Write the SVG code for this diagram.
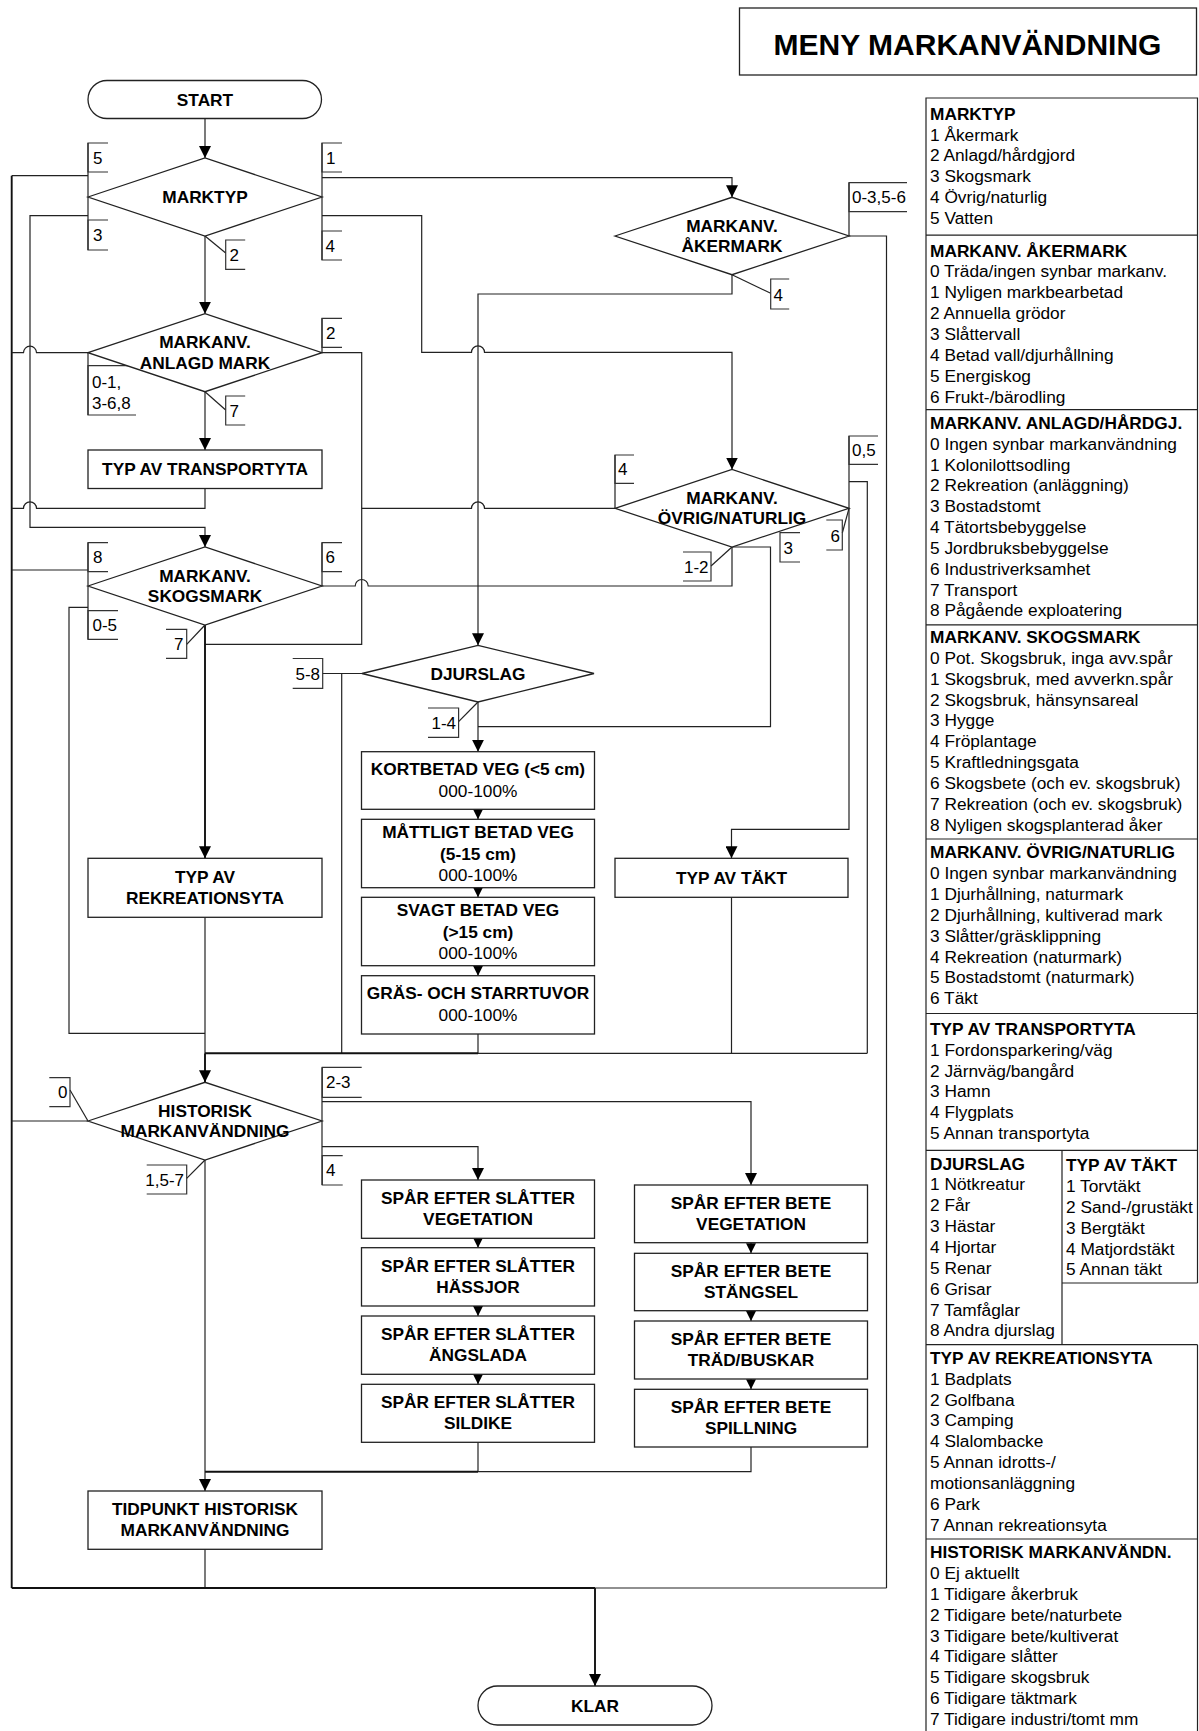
<svg xmlns="http://www.w3.org/2000/svg" width="1199" height="1731" viewBox="0 0 1199 1731">
<style>
  .shape{fill:#fff;stroke:#222;stroke-width:1.3}
  .ln{fill:none;stroke:#222;stroke-width:1.2}
  .lnb{fill:none;stroke:#111;stroke-width:1.9}
  .lbl{fill:none;stroke:#333;stroke-width:1.2}
  .pl{fill:none;stroke:#222;stroke-width:1.2}
  text{font-family:"Liberation Sans",Arial,Helvetica,sans-serif;fill:#000}
  .nt{font-size:17.3px;font-weight:bold;text-anchor:middle}
  .nv{font-size:17.3px;text-anchor:middle}
  .lt{font-size:17px}
  .le{font-size:17px;text-anchor:end}
  .ph{font-size:17.3px;font-weight:bold}
  .pi{font-size:17.3px}
  .title{font-size:30px;font-weight:bold;text-anchor:middle}
</style>
<defs>
  <marker id="ah" markerUnits="userSpaceOnUse" viewBox="0 0 12 12" refX="12" refY="6" markerWidth="12" markerHeight="12" orient="auto">
    <path d="M0,0 L12,6 L0,12 Z" fill="#000"/>
  </marker>
  <marker id="ahs" markerUnits="userSpaceOnUse" viewBox="0 0 10 10" refX="10" refY="5" markerWidth="10" markerHeight="10" orient="auto">
    <path d="M0,0 L10,5 L0,10 Z" fill="#000"/>
  </marker>
</defs>

<rect x="0" y="0" width="1199" height="1731" fill="#fff"/>

<!-- title -->
<g id="title">
  <rect class="shape" x="739.5" y="8" width="457" height="67"/>
  <text class="title" x="967.5" y="54.5">MENY MARKANVÄNDNING</text>
</g>

<!-- connectors -->
<g id="connectors">
  <path class="ln" d="M205,118.5 V158" marker-end="url(#ah)"/>
  <path class="ln" d="M205,236 V313.7" marker-end="url(#ah)"/>
  <!-- MARKTYP left: 5 and 3 -->
  <path class="ln" d="M88,143 V250"/>
  <path class="ln" d="M88,175.7 H11.7"/>
  <path class="lnb" d="M11.7,175.7 V1588"/>
  <path class="ln" d="M88,215.7 H30 V527.3 H205 V547" marker-end="url(#ah)"/>
  <!-- MARKTYP right: 1 and 4 -->
  <path class="ln" d="M322,143 V260"/>
  <path class="ln" d="M322,177.7 H732 V197.3" marker-end="url(#ah)"/>
  <path class="ln" d="M322,215.7 H421.7 V352.3 H471.5 A6.5,6.5 0 0 1 484.5,352.3 H732 V469.5" marker-end="url(#ah)"/>
  <!-- ANLAGD MARK -->
  <path class="ln" d="M322,318.3 V352.7 H361.7 V644.3 H205"/>
  <path class="ln" d="M88,352.7 V415"/>
  <path class="ln" d="M88,352.7 H36.5 A6.5,6.5 0 0 0 23.5,352.7 H11.7"/>
  <path class="ln" d="M205,391.7 V450" marker-end="url(#ah)"/>
  <!-- transport out -->
  <path class="ln" d="M205,488.5 V508.3 H36.5 A6.5,6.5 0 0 0 23.5,508.3 H11.7"/>
  <!-- SKOGSMARK -->
  <path class="ln" d="M88,542.7 V639.3"/>
  <path class="ln" d="M88,570 H11.7"/>
  <path class="ln" d="M88,607.3 H69 V1033.3 H205"/>
  <path class="ln" d="M322,542.7 V586 H355.2 A6.5,6.5 0 0 1 368.2,586 H732 V547"/>
  <path class="lnb" d="M205,625 V858.3" marker-end="url(#ah)"/>
  <!-- ÅKERMARK -->
  <path class="ln" d="M732,274.7 V294 H478 V645.3" marker-end="url(#ah)"/>
  <path class="ln" d="M849,182.7 V236 H886.5 V1588"/>
  <!-- ÖVRIG/NATURLIG -->
  <path class="ln" d="M615,455 V508.3 H484.5 A6.5,6.5 0 0 0 471.5,508.3 H361.7"/>
  <path class="ln" d="M849,436 V508.3"/>
  <path class="ln" d="M849,481.7 H867.3 V1053.3"/>
  <path class="ln" d="M849,508.3 V829.3 H731.5 V858.3" marker-end="url(#ah)"/>
  <path class="ln" d="M732,547 H770.5 V726.7 H478"/>
  <!-- DJURSLAG -->
  <path class="ln" d="M362,673.5 H322.7"/>
  <path class="ln" d="M341.7,673.5 V1053.3"/>
  <path class="ln" d="M478,702 V751.7" marker-end="url(#ah)"/>
  <path class="ln" d="M478,809.3 V819.3" marker-end="url(#ahs)"/>
  <path class="ln" d="M478,887.7 V897.3" marker-end="url(#ahs)"/>
  <path class="ln" d="M478,965.7 V975.7" marker-end="url(#ahs)"/>
  <path class="ln" d="M478,1034 V1053.3"/>
  <path class="ln" d="M731.5,897.3 V1053.3"/>
  <path class="ln" d="M205,917.3 V1053.3"/>
  <path class="lnb" d="M205,1053.3 V1082.3" marker-end="url(#ah)"/>
  <path class="lnb" d="M205,1053.3 H478"/>
  <path class="ln" d="M478,1053.3 H867.3"/>
  <!-- HISTORISK -->
  <path class="ln" d="M88,1121 H11.7"/>
  <path class="ln" d="M322,1067.3 V1185"/>
  <path class="ln" d="M322,1101.7 H751 V1185" marker-end="url(#ah)"/>
  <path class="ln" d="M322,1146.7 H478 V1180" marker-end="url(#ah)"/>
  <path class="ln" d="M478,1238.3 V1247.7" marker-end="url(#ahs)"/>
  <path class="ln" d="M478,1306 V1316" marker-end="url(#ahs)"/>
  <path class="ln" d="M478,1374.3 V1384.3" marker-end="url(#ahs)"/>
  <path class="ln" d="M751,1242.7 V1253.3" marker-end="url(#ahs)"/>
  <path class="ln" d="M751,1310.7 V1321" marker-end="url(#ahs)"/>
  <path class="ln" d="M751,1379 V1389.3" marker-end="url(#ahs)"/>
  <path class="ln" d="M478,1442.3 V1471.7"/>
  <path class="ln" d="M751,1447 V1471.7 H478"/>
  <path class="lnb" d="M478,1471.7 H205"/>
  <path class="ln" d="M205,1160 V1491" marker-end="url(#ah)"/>
  <path class="ln" d="M205,1549.3 V1588"/>
  <path class="lnb" d="M11.7,1588 H595"/>
  <path class="ln" d="M595,1588 H886.5"/>
  <path class="lnb" d="M595,1588 V1686" marker-end="url(#ah)"/>
  <!-- leaders from vertices to labels -->
  <path class="ln" d="M205,236 L225.7,253"/>
  <path class="ln" d="M205,391.7 L225.7,410"/>
  <path class="ln" d="M205,625 L186.7,644.3"/>
  <path class="ln" d="M732,274.7 L770.7,293.3"/>
  <path class="ln" d="M849,508.3 L842.3,533"/>
  <path class="ln" d="M732,547 L711,566"/>
  <path class="ln" d="M478,702 L458.6,721.7"/>
  <path class="ln" d="M88,1121 L70,1090"/>
  <path class="ln" d="M205,1160 L186.7,1178.3"/>
</g>

<!-- connector labels -->
<g id="edge-labels">
  <path class="lbl" d="M108,143 H88 V172 H108"/><text class="lt" x="93" y="163.5">5</text>
  <path class="lbl" d="M108,220 H88 V250 H108"/><text class="lt" x="93" y="241">3</text>
  <path class="lbl" d="M342,143 H322 V172 H342"/><text class="lt" x="326" y="163.5">1</text>
  <path class="lbl" d="M342,231 H322 V260 H342"/><text class="lt" x="325.5" y="251.5">4</text>
  <path class="lbl" d="M245.2,240 H225.7 V269.3 H245.2"/><text class="lt" x="229.5" y="260.7">2</text>
  <path class="lbl" d="M342,318.3 H322 V347.3 H342"/><text class="lt" x="326" y="338.8">2</text>
  <path class="lbl" d="M136,365.7 H88 V415 H136"/>
  <text class="lt" x="92" y="387.5">0-1,</text><text class="lt" x="92" y="408.5">3-6,8</text>
  <path class="lbl" d="M245.2,396 H225.7 V425 H245.2"/><text class="lt" x="229.5" y="416.5">7</text>
  <path class="lbl" d="M108,542.7 H88 V571.7 H108"/><text class="lt" x="93" y="563.2">8</text>
  <path class="lbl" d="M118,610.7 H88 V639.3 H118"/><text class="lt" x="92.5" y="631">0-5</text>
  <path class="lbl" d="M342,542.7 H322 V571.7 H342"/><text class="lt" x="325.5" y="563.2">6</text>
  <path class="lbl" d="M166,629.3 H186.7 V658.3 H166"/><text class="le" x="183.5" y="649.8">7</text>
  <path class="lbl" d="M907,182.7 H849 V211.7 H907"/><text class="lt" x="852" y="203.2">0-3,5-6</text>
  <path class="lbl" d="M789.2,279 H770.7 V309 H789.2"/><text class="lt" x="773.5" y="300.5">4</text>
  <path class="lbl" d="M634,455 H615 V483.3 H634"/><text class="lt" x="618" y="475.2">4</text>
  <path class="lbl" d="M878,436 H849 V464.3 H878"/><text class="lt" x="852" y="456.2">0,5</text>
  <path class="lbl" d="M826.3,520 H842.3 V550 H826.3"/><text class="le" x="840" y="541.5">6</text>
  <path class="lbl" d="M800,532.7 H780 V562 H800"/><text class="lt" x="783.5" y="553.5">3</text>
  <path class="lbl" d="M683,552 H711 V581 H683"/><text class="le" x="708.5" y="572.5">1-2</text>
  <path class="lbl" d="M292.7,658.5 H322.7 V688.3 H292.7"/><text class="le" x="320" y="679.5">5-8</text>
  <path class="lbl" d="M428,708 H458.6 V737.3 H428"/><text class="le" x="456" y="728.7">1-4</text>
  <path class="lbl" d="M49.3,1077.7 H70 V1106.7 H49.3"/><text class="le" x="67.5" y="1098.2">0</text>
  <path class="lbl" d="M146.7,1165 H186.7 V1194 H146.7"/><text class="le" x="184" y="1185.5">1,5-7</text>
  <path class="lbl" d="M361.7,1067.3 H322.3 V1097.3 H361.7"/><text class="lt" x="326" y="1088.3">2-3</text>
  <path class="lbl" d="M342.7,1155.7 H322.3 V1185 H342.7"/><text class="lt" x="326" y="1176.3">4</text>
</g>

<!-- flow nodes -->
<g id="start">
  <rect class="shape" x="88" y="80.5" width="233.5" height="38" rx="19" ry="19"/>
  <text class="nt" x="205" y="105.5">START</text>
</g>
<g id="marktyp">
  <polygon class="shape" points="88,197 205,158 322,197 205,236"/>
  <text class="nt" x="205" y="203">MARKTYP</text>
</g>
<g id="anlagd">
  <polygon class="shape" points="88,352.7 205,313.7 322,352.7 205,391.7"/>
  <text class="nt" x="205" y="348.2">MARKANV.</text>
  <text class="nt" x="205" y="368.7">ANLAGD MARK</text>
</g>
<g id="transportyta">
  <rect class="shape" x="88" y="450" width="234" height="38.5"/>
  <text class="nt" x="205" y="475.3">TYP AV TRANSPORTYTA</text>
</g>
<g id="skogsmark">
  <polygon class="shape" points="88,586 205,547 322,586 205,625"/>
  <text class="nt" x="205" y="581.5">MARKANV.</text>
  <text class="nt" x="205" y="602">SKOGSMARK</text>
</g>
<g id="rekreationsyta">
  <rect class="shape" x="88" y="858.3" width="234" height="59"/>
  <text class="nt" x="205" y="883.3">TYP AV</text>
  <text class="nt" x="205" y="904.3">REKREATIONSYTA</text>
</g>
<g id="akermark">
  <polygon class="shape" points="615,236 732,197.3 849,236 732,274.7"/>
  <text class="nt" x="732" y="231.5">MARKANV.</text>
  <text class="nt" x="732" y="252">ÅKERMARK</text>
</g>
<g id="ovrig">
  <polygon class="shape" points="615,508.3 732,469.5 849,508.3 732,547"/>
  <text class="nt" x="732" y="503.8">MARKANV.</text>
  <text class="nt" x="732" y="524.3">ÖVRIG/NATURLIG</text>
</g>
<g id="djurslag">
  <polygon class="shape" points="362,673.5 478,645.3 594,673.5 478,702"/>
  <text class="nt" x="478" y="679.5">DJURSLAG</text>
</g>
<g id="kortbetad">
  <rect class="shape" x="361.5" y="751.7" width="233" height="57.6"/>
  <text class="nt" x="478" y="775">KORTBETAD VEG (&lt;5 cm)</text>
  <text class="nv" x="478" y="796.5">000-100%</text>
</g>
<g id="mattligt">
  <rect class="shape" x="361.5" y="819.3" width="233" height="68.4"/>
  <text class="nt" x="478" y="838.3">MÅTTLIGT BETAD VEG</text>
  <text class="nt" x="478" y="859.5">(5-15 cm)</text>
  <text class="nv" x="478" y="880.7">000-100%</text>
</g>
<g id="svagt">
  <rect class="shape" x="361.5" y="897.3" width="233" height="68.4"/>
  <text class="nt" x="478" y="916.3">SVAGT BETAD VEG</text>
  <text class="nt" x="478" y="937.5">(&gt;15 cm)</text>
  <text class="nv" x="478" y="958.7">000-100%</text>
</g>
<g id="tuvor">
  <rect class="shape" x="361.5" y="975.7" width="233" height="58.3"/>
  <text class="nt" x="478" y="999.3">GRÄS- OCH STARRTUVOR</text>
  <text class="nv" x="478" y="1020.5">000-100%</text>
</g>
<g id="takt">
  <rect class="shape" x="615" y="858.3" width="233" height="39"/>
  <text class="nt" x="731.5" y="883.8">TYP AV TÄKT</text>
</g>
<g id="historisk">
  <polygon class="shape" points="88,1121 205,1082.3 322,1121 205,1160"/>
  <text class="nt" x="205" y="1116.5">HISTORISK</text>
  <text class="nt" x="205" y="1137">MARKANVÄNDNING</text>
</g>
<g id="slatter-vegetation">
  <rect class="shape" x="361.5" y="1180" width="233" height="58.3"/>
  <text class="nt" x="478" y="1204">SPÅR EFTER SLÅTTER</text>
  <text class="nt" x="478" y="1225">VEGETATION</text>
</g>
<g id="slatter-hassjor">
  <rect class="shape" x="361.5" y="1247.7" width="233" height="58.3"/>
  <text class="nt" x="478" y="1271.7">SPÅR EFTER SLÅTTER</text>
  <text class="nt" x="478" y="1292.7">HÄSSJOR</text>
</g>
<g id="slatter-angslada">
  <rect class="shape" x="361.5" y="1316" width="233" height="58.3"/>
  <text class="nt" x="478" y="1340">SPÅR EFTER SLÅTTER</text>
  <text class="nt" x="478" y="1361">ÄNGSLADA</text>
</g>
<g id="slatter-sildike">
  <rect class="shape" x="361.5" y="1384.3" width="233" height="58"/>
  <text class="nt" x="478" y="1408.3">SPÅR EFTER SLÅTTER</text>
  <text class="nt" x="478" y="1429.3">SILDIKE</text>
</g>
<g id="bete-vegetation">
  <rect class="shape" x="634.5" y="1185" width="233" height="57.7"/>
  <text class="nt" x="751" y="1209">SPÅR EFTER BETE</text>
  <text class="nt" x="751" y="1230">VEGETATION</text>
</g>
<g id="bete-stangsel">
  <rect class="shape" x="634.5" y="1253.3" width="233" height="57.4"/>
  <text class="nt" x="751" y="1277.3">SPÅR EFTER BETE</text>
  <text class="nt" x="751" y="1298.3">STÄNGSEL</text>
</g>
<g id="bete-trad">
  <rect class="shape" x="634.5" y="1321" width="233" height="58"/>
  <text class="nt" x="751" y="1345">SPÅR EFTER BETE</text>
  <text class="nt" x="751" y="1366">TRÄD/BUSKAR</text>
</g>
<g id="bete-spillning">
  <rect class="shape" x="634.5" y="1389.3" width="233" height="57.7"/>
  <text class="nt" x="751" y="1413.3">SPÅR EFTER BETE</text>
  <text class="nt" x="751" y="1434.3">SPILLNING</text>
</g>
<g id="tidpunkt">
  <rect class="shape" x="88" y="1491" width="234" height="58.3"/>
  <text class="nt" x="205" y="1515">TIDPUNKT HISTORISK</text>
  <text class="nt" x="205" y="1536">MARKANVÄNDNING</text>
</g>
<g id="klar">
  <rect class="shape" x="478" y="1686" width="234" height="39" rx="19.5" ry="19.5"/>
  <text class="nt" x="595" y="1711.5">KLAR</text>
</g>

<!-- code list panel -->
<g id="legend">
  <path class="pl" d="M926,1731 V98 H1197.5 V1283 M1197.5,1344.7 V1731"/>
  <path class="pl" d="M926,235.2 H1197.5 M926,409.6 H1197.5 M926,624.9 H1197.5 M926,839 H1197.5 M926,1013.5 H1197.5 M926,1150.4 H1197.5 M926,1344.7 H1197.5 M926,1539 H1197.5"/>
  <path class="pl" d="M1062,1150.4 V1344.7 M1062,1283 H1197.5"/>

  <text class="ph" x="930" y="119.7">MARKTYP</text>
  <text class="pi"><tspan x="930" y="140.5">1 Åkermark</tspan><tspan x="930" y="161.4">2 Anlagd/hårdgjord</tspan><tspan x="930" y="182.2">3 Skogsmark</tspan><tspan x="930" y="203.1">4 Övrig/naturlig</tspan><tspan x="930" y="223.9">5 Vatten</tspan></text>

  <text class="ph" x="930" y="256.6">MARKANV. ÅKERMARK</text>
  <text class="pi"><tspan x="930" y="277.4">0 Träda/ingen synbar markanv.</tspan><tspan x="930" y="298.3">1 Nyligen markbearbetad</tspan><tspan x="930" y="319.1">2 Annuella grödor</tspan><tspan x="930" y="340">3 Slåttervall</tspan><tspan x="930" y="360.8">4 Betad vall/djurhållning</tspan><tspan x="930" y="381.6">5 Energiskog</tspan><tspan x="930" y="402.5">6 Frukt-/bärodling</tspan></text>

  <text class="ph" x="930" y="428.8">MARKANV. ANLAGD/HÅRDGJ.</text>
  <text class="pi"><tspan x="930" y="449.6">0 Ingen synbar markanvändning</tspan><tspan x="930" y="470.5">1 Kolonilottsodling</tspan><tspan x="930" y="491.3">2 Rekreation (anläggning)</tspan><tspan x="930" y="512.2">3 Bostadstomt</tspan><tspan x="930" y="533">4 Tätortsbebyggelse</tspan><tspan x="930" y="553.8">5 Jordbruksbebyggelse</tspan><tspan x="930" y="574.7">6 Industriverksamhet</tspan><tspan x="930" y="595.5">7 Transport</tspan><tspan x="930" y="616.4">8 Pågående exploatering</tspan></text>

  <text class="ph" x="930" y="643">MARKANV. SKOGSMARK</text>
  <text class="pi"><tspan x="930" y="663.8">0 Pot. Skogsbruk, inga avv.spår</tspan><tspan x="930" y="684.7">1 Skogsbruk, med avverkn.spår</tspan><tspan x="930" y="705.5">2 Skogsbruk, hänsynsareal</tspan><tspan x="930" y="726.4">3 Hygge</tspan><tspan x="930" y="747.2">4 Fröplantage</tspan><tspan x="930" y="768">5 Kraftledningsgata</tspan><tspan x="930" y="788.9">6 Skogsbete (och ev. skogsbruk)</tspan><tspan x="930" y="809.7">7 Rekreation (och ev. skogsbruk)</tspan><tspan x="930" y="830.6">8 Nyligen skogsplanterad åker</tspan></text>

  <text class="ph" x="930" y="858.3">MARKANV. ÖVRIG/NATURLIG</text>
  <text class="pi"><tspan x="930" y="879.1">0 Ingen synbar markanvändning</tspan><tspan x="930" y="900">1 Djurhållning, naturmark</tspan><tspan x="930" y="920.8">2 Djurhållning, kultiverad mark</tspan><tspan x="930" y="941.7">3 Slåtter/gräsklippning</tspan><tspan x="930" y="962.5">4 Rekreation (naturmark)</tspan><tspan x="930" y="983.3">5 Bostadstomt (naturmark)</tspan><tspan x="930" y="1004.2">6 Täkt</tspan></text>

  <text class="ph" x="930" y="1034.9">TYP AV TRANSPORTYTA</text>
  <text class="pi"><tspan x="930" y="1055.7">1 Fordonsparkering/väg</tspan><tspan x="930" y="1076.6">2 Järnväg/bangård</tspan><tspan x="930" y="1097.4">3 Hamn</tspan><tspan x="930" y="1118.3">4 Flygplats</tspan><tspan x="930" y="1139.1">5 Annan transportyta</tspan></text>

  <text class="ph" x="930" y="1169.6">DJURSLAG</text>
  <text class="pi"><tspan x="930" y="1190.4">1 Nötkreatur</tspan><tspan x="930" y="1211.3">2 Får</tspan><tspan x="930" y="1232.1">3 Hästar</tspan><tspan x="930" y="1253">4 Hjortar</tspan><tspan x="930" y="1273.8">5 Renar</tspan><tspan x="930" y="1294.6">6 Grisar</tspan><tspan x="930" y="1315.5">7 Tamfåglar</tspan><tspan x="930" y="1336.3">8 Andra djurslag</tspan></text>

  <text class="ph" x="1066" y="1171.1">TYP AV TÄKT</text>
  <text class="pi"><tspan x="1066" y="1191.9">1 Torvtäkt</tspan><tspan x="1066" y="1212.8">2 Sand-/grustäkt</tspan><tspan x="1066" y="1233.6">3 Bergtäkt</tspan><tspan x="1066" y="1254.5">4 Matjordstäkt</tspan><tspan x="1066" y="1275.3">5 Annan täkt</tspan></text>

  <text class="ph" x="930" y="1363.9">TYP AV REKREATIONSYTA</text>
  <text class="pi"><tspan x="930" y="1384.7">1 Badplats</tspan><tspan x="930" y="1405.6">2 Golfbana</tspan><tspan x="930" y="1426.4">3 Camping</tspan><tspan x="930" y="1447.3">4 Slalombacke</tspan><tspan x="930" y="1468.1">5 Annan idrotts-/</tspan><tspan x="930" y="1488.9">motionsanläggning</tspan><tspan x="930" y="1509.8">6 Park</tspan><tspan x="930" y="1530.6">7 Annan rekreationsyta</tspan></text>

  <text class="ph" x="930" y="1558.2">HISTORISK MARKANVÄNDN.</text>
  <text class="pi"><tspan x="930" y="1579">0 Ej aktuellt</tspan><tspan x="930" y="1599.9">1 Tidigare åkerbruk</tspan><tspan x="930" y="1620.7">2 Tidigare bete/naturbete</tspan><tspan x="930" y="1641.6">3 Tidigare bete/kultiverat</tspan><tspan x="930" y="1662.4">4 Tidigare slåtter</tspan><tspan x="930" y="1683.2">5 Tidigare skogsbruk</tspan><tspan x="930" y="1704.1">6 Tidigare täktmark</tspan><tspan x="930" y="1724.9">7 Tidigare industri/tomt mm</tspan></text>
</g>
</svg>
